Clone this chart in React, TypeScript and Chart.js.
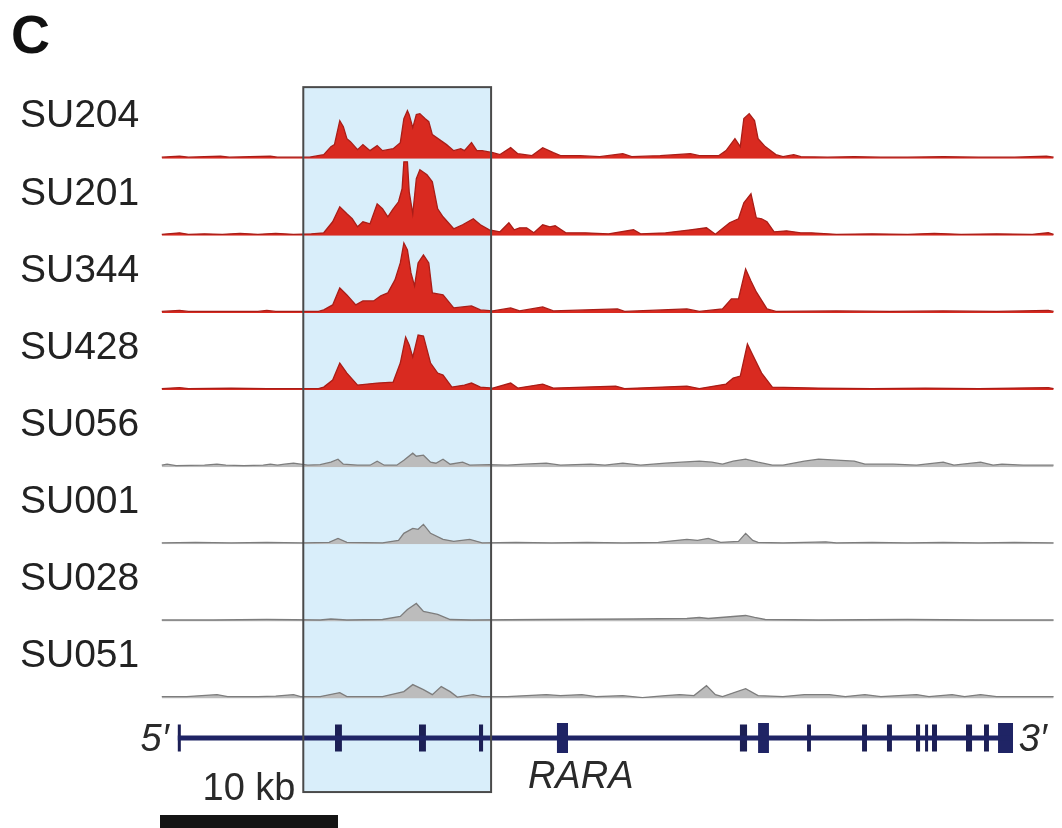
import React, { useEffect, useRef } from 'react';
import { Chart, registerables } from 'chart.js';

Chart.register(...registerables);

const FONT = '"Liberation Sans", Arial, Helvetica, sans-serif';

// Sample names (one track each, top to bottom)
const trackNames = ['SU204', 'SU201', 'SU344', 'SU428', 'SU056', 'SU001', 'SU028', 'SU051'];

// Signal tracks: [position (kb), signal]
const su204: [number, number][] = [
  [0.1, 1.5], [1.1, 2.5], [1.6, 1.5], [3.4, 2.5], [3.9, 1.5], [6.2, 2.5], [6.6, 1.5], [8.4, 1.5],
  [9.2, 4], [9.6, 12], [9.8, 14], [10.1, 38], [10.3, 32], [10.5, 20], [10.7, 17], [11.1, 9],
  [11.4, 14], [11.8, 8], [12.2, 13], [12.5, 8], [13.1, 10], [13.5, 16], [13.7, 40], [13.9, 48],
  [14.0, 44], [14.2, 31], [14.4, 44], [14.6, 45], [14.9, 40], [15.1, 37], [15.3, 24], [15.7, 19],
  [16.1, 14], [16.5, 8], [16.9, 10], [17.1, 8], [17.5, 16], [17.8, 8], [18.1, 8], [18.7, 6],
  [19.1, 4], [19.7, 11], [20.1, 5], [20.9, 3], [21.5, 11], [22.1, 6], [22.5, 3], [23.6, 3],
  [24.7, 2], [26.0, 5], [26.5, 2], [28.1, 3], [29.8, 5], [30.3, 3], [31.4, 3], [31.8, 8],
  [32.3, 20], [32.6, 12], [32.8, 40], [33.1, 45], [33.4, 38], [33.6, 20], [34.0, 12], [34.6, 4],
  [35.0, 2], [35.6, 4], [36.0, 2], [37.5, 1.5], [39.0, 2], [40.5, 1.5], [42.0, 1.5], [44.0, 2],
  [46.0, 1.5], [48.0, 1.5], [49.8, 2.5], [50.2, 1.5],
];
const su201: [number, number][] = [
  [0.1, 1.5], [1.1, 3], [1.6, 1.5], [2.5, 2], [3.5, 1.5], [4.5, 2.5], [5.5, 1.5], [6.5, 2.5],
  [7.5, 1.5], [8.5, 2], [9.2, 3], [9.7, 14], [10.1, 29], [10.5, 22], [10.8, 17], [11.1, 9],
  [11.4, 14], [11.8, 12], [12.2, 32], [12.5, 27], [12.8, 19], [13.1, 27], [13.4, 34], [13.6, 47],
  [13.7, 74], [13.9, 74], [14.0, 44], [14.2, 22], [14.4, 57], [14.6, 66], [15.0, 61], [15.3, 54],
  [15.6, 27], [15.9, 19], [16.5, 7], [17.0, 11], [17.6, 17], [18.0, 11], [18.5, 6], [19.1, 4],
  [19.6, 13], [19.9, 6], [20.2, 8], [20.6, 8], [21.0, 3], [21.5, 11], [21.9, 9], [22.2, 10],
  [22.8, 3], [23.9, 3], [25.2, 2], [26.6, 6], [27.0, 2], [28.4, 3], [29.8, 6], [30.7, 8],
  [31.2, 1.5], [32.0, 13], [32.5, 17], [32.8, 33], [33.2, 42], [33.5, 18], [33.8, 17], [34.1, 14],
  [34.5, 4], [35.2, 5], [36.0, 3], [36.6, 3], [38.0, 1.5], [40.0, 2], [42.0, 1.5], [43.5, 2.5],
  [45.0, 1.5], [47.0, 2], [49.0, 1.5], [49.9, 3], [50.2, 1.5],
];
const su344: [number, number][] = [
  [0.1, 1.5], [1.1, 2.5], [1.6, 1.5], [5.5, 1.5], [6.0, 2.5], [6.5, 1.5], [8.9, 1.5],
  [9.2, 3], [9.7, 8], [10.1, 25], [10.5, 18], [11.0, 8], [11.4, 12], [12.0, 12], [12.4, 17],
  [12.8, 20], [13.2, 33], [13.5, 50], [13.7, 70], [13.9, 63], [14.1, 40], [14.3, 27], [14.5, 50],
  [14.8, 58], [15.1, 50], [15.3, 20], [15.9, 18], [16.5, 5], [17.0, 6], [17.5, 7], [18.0, 3],
  [18.7, 2], [19.7, 5], [20.2, 2], [21.5, 6], [22.1, 2], [25.7, 4], [26.1, 1.5], [29.6, 4],
  [30.3, 1.5], [31.6, 4], [32.1, 14], [32.5, 14], [32.9, 44], [33.2, 32], [33.5, 21], [34.1, 4],
  [34.6, 1.5], [38.0, 2], [41.0, 1.5], [44.0, 2], [47.0, 1.5], [49.9, 2.5], [50.2, 1.5],
];
const su428: [number, number][] = [
  [0.1, 1.5], [1.1, 2.5], [1.6, 1.5], [4.0, 2], [6.0, 1.5], [8.9, 1.5], [9.2, 3], [9.7, 10],
  [10.1, 27], [10.5, 17], [11.1, 5], [12.2, 7], [13.1, 8], [13.5, 27], [13.8, 53], [14.0, 45],
  [14.2, 33], [14.5, 55], [14.8, 54], [15.2, 27], [15.6, 17], [15.9, 15], [16.4, 3], [17.1, 5],
  [17.5, 7], [18.0, 3], [18.7, 2], [19.7, 7], [20.1, 2], [21.5, 6], [22.1, 2], [25.6, 4],
  [26.1, 1.5], [29.6, 4], [30.3, 1.5], [31.8, 6], [32.2, 12], [32.6, 14], [33.0, 46], [33.3, 35],
  [33.8, 17], [34.4, 3], [37.0, 2], [40.0, 1.5], [43.0, 2], [46.0, 1.5], [49.9, 2.5], [50.2, 1.5],
];
const su056: [number, number][] = [
  [0.1, 2], [0.4, 3], [0.9, 1.5], [2.5, 2], [3.2, 3], [3.7, 2], [4.7, 1.5], [5.8, 2], [6.2, 3],
  [6.6, 2], [7.0, 3], [7.5, 4], [7.9, 3], [8.3, 2], [9.0, 2.5], [9.6, 5], [10.0, 8], [10.3, 3],
  [11.1, 2], [11.8, 2], [12.2, 6], [12.6, 2], [13.3, 2], [13.7, 7], [14.2, 14], [14.4, 11],
  [14.8, 12], [15.2, 5], [15.5, 4], [15.9, 8], [16.3, 3], [17.0, 5], [17.4, 2], [18.5, 2.5],
  [19.5, 2], [20.5, 3], [21.7, 4], [22.5, 2], [24.2, 3], [25.0, 2], [26.0, 4], [27.0, 2],
  [28.4, 4], [29.3, 5], [30.3, 6], [31.0, 5], [31.6, 3], [32.2, 6], [32.9, 8], [33.6, 5],
  [34.4, 2], [35.0, 2], [36.2, 6], [37.0, 8], [38.0, 7], [39.0, 6], [39.6, 3], [41.2, 3],
  [42.5, 2], [44.0, 5], [44.6, 2], [46.1, 5], [46.8, 2], [47.3, 3], [48.5, 2], [50.2, 2],
];
const su001: [number, number][] = [
  [0.1, 1.5], [2.0, 2], [4.0, 1.5], [6.0, 2], [8.0, 1.5], [9.5, 2], [10.0, 6], [10.5, 2],
  [12.5, 1.5], [13.4, 4], [13.7, 11], [14.2, 16], [14.5, 15], [14.8, 20], [15.2, 11], [15.9, 5],
  [16.5, 3], [17.4, 5], [18.1, 1.5], [20.0, 2], [22.0, 1.5], [24.0, 2], [26.0, 1.5], [28.0, 2],
  [29.6, 5], [30.2, 4], [30.8, 6], [31.5, 2], [32.5, 3], [32.9, 11], [33.3, 4], [33.6, 2],
  [35.0, 1.5], [37.4, 2.5], [38.0, 1.5], [40.0, 2], [42.0, 1.5], [44.0, 2], [46.0, 1.5],
  [48.0, 2], [50.2, 1.5],
];
const su028: [number, number][] = [
  [0.1, 1.5], [3.0, 1.5], [6.0, 2], [9.0, 1.5], [9.6, 2.5], [10.5, 1.5], [12.5, 2], [13.5, 5],
  [13.9, 12], [14.4, 18], [14.8, 10], [15.6, 7], [16.3, 2], [17.5, 1.5], [21.7, 2], [26.6, 2.5],
  [29.6, 3], [30.3, 4], [30.8, 3], [32.2, 5], [32.9, 6], [33.4, 4], [34.0, 2], [37.0, 1.5],
  [42.0, 2], [46.0, 1.5], [50.2, 1.5],
];
const su051: [number, number][] = [
  [0.1, 2], [1.5, 2], [3.2, 4], [3.8, 2], [5.5, 2], [6.5, 2.5], [7.5, 4], [7.9, 2], [9.0, 2],
  [10.1, 6], [10.5, 2], [12.5, 2], [13.7, 7], [14.2, 14], [14.8, 9], [15.3, 4], [15.8, 12],
  [16.3, 7], [16.7, 1.5], [17.6, 4], [18.1, 2], [19.5, 2], [21.7, 4], [22.5, 3], [23.7, 4],
  [24.5, 2], [26.0, 3], [27.1, 1], [28.4, 3], [29.2, 4], [30.0, 3], [30.7, 13], [31.2, 4],
  [31.6, 2], [32.9, 10], [33.6, 3], [35.0, 2], [36.2, 4], [37.6, 4], [38.5, 2], [39.6, 4],
  [40.5, 2], [42.5, 4], [43.2, 2], [44.5, 4], [45.2, 2], [46.1, 4], [47.0, 2], [48.5, 2], [50.2, 2],
];

const trackData = [su204, su201, su344, su428, su056, su001, su028, su051];
const trackActive = [true, true, true, true, false, false, false, false];

// Gene model (kb)
const geneName = 'RARA';
const geneSpan = [1.0, 47.9];
const exonsNarrow: [number, number][] = [
  [1.0, 1.17], [9.83, 10.22], [14.55, 14.94], [17.92, 18.15], [32.58, 32.98], [36.35, 36.57],
  [39.44, 39.72], [40.84, 41.12], [42.47, 42.7], [42.98, 43.15], [43.37, 43.65], [45.28, 45.62],
  [46.29, 46.57],
];
const exonsWide: [number, number][] = [[22.3, 22.92], [33.6, 34.21], [47.08, 47.92]];

const highlightRegion = [8.05, 18.6];
const scaleBarKb = [0, 10];
const scaleBarLabel = '10 kb';

// layout constants
const TOP = 81.5;
const TRACK_H = 77.14;
const GENE_H = 96;
const BAR_H = 828 - TOP - 8 * TRACK_H - GENE_H;
const X_MAX = 50.28;

const segs = (list: [number, number][]) =>
  list.flatMap(([s, e]) => [{ x: s, y: 0 }, { x: e, y: 0 }, { x: e, y: null as any }]);

export default function App() {
  const ref = useRef<HTMLCanvasElement | null>(null);

  useEffect(() => {
    if (!ref.current) return;
    const datasets: any[] = trackData.map((d, i) => ({
      type: 'line',
      label: trackNames[i],
      data: d.map(([x, y]) => ({ x, y })),
      yAxisID: 'y' + i,
      borderColor: trackActive[i] ? '#a91d17' : '#7d7d7d',
      backgroundColor: trackActive[i] ? '#d92a20' : '#bcbcbc',
      borderWidth: 1.3,
      fill: 'origin',
      pointRadius: 0,
      tension: 0,
    }));
    datasets.push({
      type: 'line', label: 'gene', yAxisID: 'gene',
      data: [{ x: geneSpan[0], y: 0 }, { x: geneSpan[1], y: 0 }],
      borderColor: '#1f2465', borderWidth: 5, pointRadius: 0, fill: false, borderCapStyle: 'butt',
    });
    datasets.push({
      type: 'line', label: 'exons', yAxisID: 'gene', data: segs(exonsNarrow),
      borderColor: '#1c1f55', borderWidth: 27, pointRadius: 0, fill: false, borderCapStyle: 'butt', spanGaps: false,
    });
    datasets.push({
      type: 'line', label: 'exonsWide', yAxisID: 'gene', data: segs(exonsWide),
      borderColor: '#1f2465', borderWidth: 30, pointRadius: 0, fill: false, borderCapStyle: 'butt', spanGaps: false,
    });
    datasets.push({
      type: 'line', label: 'scale', yAxisID: 'sbar',
      data: [{ x: scaleBarKb[0], y: 6.5 }, { x: scaleBarKb[1], y: 6.5 }],
      borderColor: '#141414', borderWidth: 13, pointRadius: 0, fill: false, borderCapStyle: 'butt',
    });

    const fit = (s: any) => {
      s.width = 140;
      s.paddingTop = 0;
      s.paddingBottom = 0;
      s.paddingLeft = 0;
      s.paddingRight = 0;
    };
    const scales: any = {
      x: { type: 'linear', min: 0, max: X_MAX, display: false, offset: false },
    };
    trackNames.forEach((n, i) => {
      scales['y' + i] = {
        type: 'linear', position: 'left', stack: 'tracks', stackWeight: TRACK_H, weight: 100 - i,
        min: 0, max: TRACK_H,
        grid: { display: false }, border: { display: false },
        afterBuildTicks: (s: any) => { s.ticks = [{ value: 42 }]; },
        afterFit: fit,
        ticks: {
          crossAlign: 'far', padding: 0, color: '#222',
          font: { family: FONT, size: 39 },
          callback: () => n,
        },
      };
    });
    scales.gene = {
      type: 'linear', position: 'left', stack: 'tracks', stackWeight: GENE_H, weight: 80,
      min: -4.19, max: 2.92, grid: { display: false }, border: { display: false },
      ticks: { display: false }, afterFit: fit,
    };
    scales.sbar = {
      type: 'linear', position: 'left', stack: 'tracks', stackWeight: BAR_H, weight: 79,
      min: 0, max: BAR_H, grid: { display: false }, border: { display: false },
      ticks: { display: false }, afterFit: fit,
    };

    const boxEdges = (sc: any) => ({
      x0: sc.x.getPixelForValue(highlightRegion[0]),
      x1: sc.x.getPixelForValue(highlightRegion[1]),
      top: sc.y0.getPixelForValue(71.5),
      bottom: sc.gene.getPixelForValue(-4.0),
    });

    const annot = {
      id: 'annot',
      beforeDatasetsDraw(chart: any) {
        const { ctx } = chart;
        const b = boxEdges(chart.scales);
        ctx.save();
        ctx.fillStyle = '#d9eefa';
        ctx.fillRect(b.x0, b.top, b.x1 - b.x0, b.bottom - b.top);
        ctx.restore();
      },
      afterDatasetsDraw(chart: any) {
        const { ctx } = chart;
        const b = boxEdges(chart.scales);
        ctx.save();
        ctx.strokeStyle = '#4a4a4a';
        ctx.lineWidth = 2;
        ctx.strokeRect(b.x0, b.top, b.x1 - b.x0, b.bottom - b.top);
        ctx.restore();
      },
      afterDraw(chart: any) {
        const { ctx, scales: sc } = chart;
        const gy = sc.gene.getPixelForValue(0);
        ctx.save();
        ctx.fillStyle = '#111';
        ctx.textBaseline = 'alphabetic';
        ctx.font = `bold 54px ${FONT}`;
        ctx.textAlign = 'left';
        ctx.fillText('C', 11, 53);
        ctx.fillStyle = '#2a2a2a';
        ctx.font = `italic 38px ${FONT}`;
        ctx.textAlign = 'right';
        ctx.fillText('5\u2032', sc.x.getPixelForValue(geneSpan[0]) - 9, gy + 13);
        ctx.textAlign = 'left';
        ctx.fillText('3\u2032', sc.x.getPixelForValue(geneSpan[1]) + 6, gy + 13);
        ctx.fillText(geneName, sc.x.getPixelForValue(20.67), gy + 50);
        ctx.font = `38px ${FONT}`;
        ctx.textAlign = 'center';
        ctx.fillText(scaleBarLabel, sc.x.getPixelForValue((scaleBarKb[0] + scaleBarKb[1]) / 2), sc.sbar.top + 5);
        ctx.restore();
      },
    };

    const chart = new Chart(ref.current, {
      type: 'line',
      data: { datasets },
      options: {
        animation: false,
        responsive: false,
        maintainAspectRatio: false,
        layout: { padding: { left: 20, top: TOP, right: 7, bottom: 0 } },
        plugins: { legend: { display: false }, tooltip: { enabled: false } },
        scales,
      } as any,
      plugins: [annot],
    });
    return () => chart.destroy();
  }, []);

  return (
    <div style={{ position: 'absolute', left: 0, top: 0, width: 1062, height: 828, background: '#fff' }}>
      <canvas ref={ref} width={1062} height={828} style={{ width: 1062, height: 828, display: 'block' }} />
    </div>
  );
}
